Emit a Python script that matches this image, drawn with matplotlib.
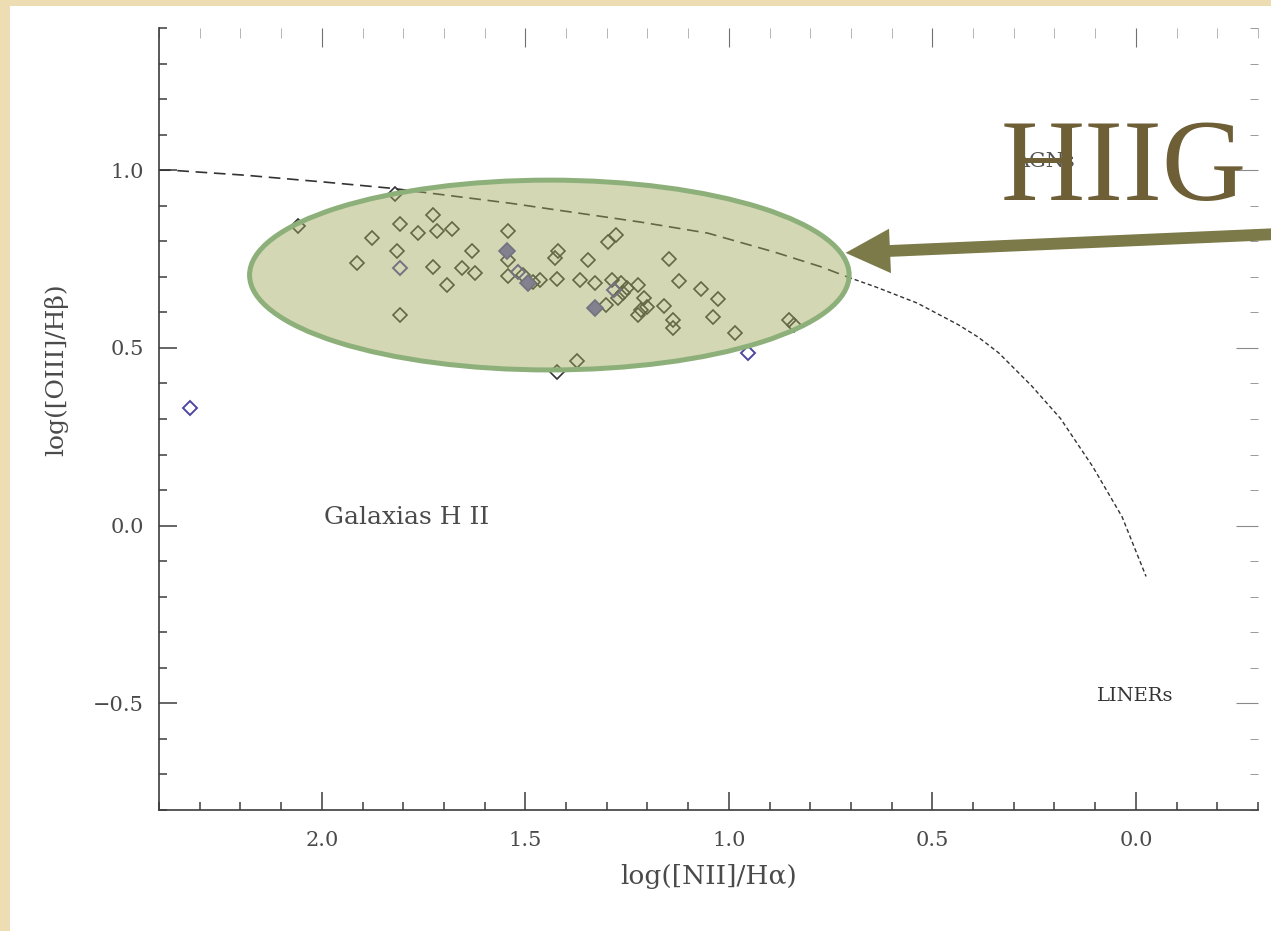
import numpy as np
import matplotlib
matplotlib.use("Agg")
import matplotlib.pyplot as plt
from matplotlib.patches import Ellipse, Rectangle
from matplotlib.ticker import MultipleLocator

# galaxy sample: log([NII]/Ha) axis value, log([OIII]/Hb) value
nii_black = [2.059, 1.820, 1.727, 1.808, 1.764, 1.717, 1.680, 1.877, 1.815, 1.914,
             1.727, 1.692, 1.808, 1.631, 1.655, 1.623, 1.542, 1.542, 1.542, 1.505,
             1.480, 1.463, 1.419, 1.426, 1.421, 1.345, 1.365, 1.328, 1.296, 1.278,
             1.286, 1.266, 1.261, 1.249, 1.273, 1.224, 1.303, 1.209, 1.217, 1.200,
             1.224, 1.372, 1.421, 1.148, 1.160, 1.123, 1.138, 1.138, 1.069, 1.027,
             1.039, 0.985, 0.852, 0.840]
oiii_black = [0.843, 0.933, 0.874, 0.848, 0.823, 0.829, 0.834, 0.809, 0.772, 0.739,
              0.728, 0.677, 0.593, 0.772, 0.725, 0.711, 0.829, 0.747, 0.702, 0.705,
              0.685, 0.691, 0.772, 0.753, 0.694, 0.747, 0.691, 0.683, 0.798, 0.817,
              0.691, 0.683, 0.654, 0.669, 0.640, 0.677, 0.621, 0.640, 0.607, 0.615,
              0.593, 0.463, 0.433, 0.750, 0.618, 0.688, 0.579, 0.556, 0.666, 0.638,
              0.587, 0.542, 0.579, 0.565]

nii_purple_open = [1.808, 1.517, 1.283, 0.953, 2.325]
oiii_purple_open = [0.725, 0.713, 0.663, 0.486, 0.331]

nii_purple_fill = [1.544, 1.493, 1.328]
oiii_purple_fill = [0.772, 0.683, 0.612]

# dividing curve between HII galaxies and AGN
curve_x = [2.40, 2.372, 2.190, 1.988, 1.828, 1.537, 1.217, 1.052, 0.889, 0.773,
           0.707, 0.638, 0.537, 0.436, 0.387, 0.337, 0.256, 0.185, 0.106, 0.034,
           -0.025]
curve_y = [1.000, 1.000, 0.986, 0.966, 0.949, 0.907, 0.854, 0.823, 0.770, 0.728,
           0.699, 0.671, 0.626, 0.565, 0.530, 0.486, 0.393, 0.301, 0.166, 0.025,
           -0.143]
n_long = 11  # long dashes up to the ellipse edge, fine dashes after

x_ticks = [2.0, 1.5, 1.0, 0.5, 0.0]
y_ticks = [1.0, 0.5, 0.0, -0.5]

W, H = 1271, 931
fig = plt.figure(figsize=(W / 100, H / 100), dpi=100)
fig.patch.set_facecolor("#eedcb2")
fig.add_artist(Rectangle((10 / W, 0), 1 - 10 / W, 1 - 6 / H,
                         transform=fig.transFigure, facecolor="white",
                         edgecolor="none", zorder=0))

ax = fig.add_axes([159 / W, 121 / H, (1258 - 159) / W, (810 - 28) / H])
ax.set_facecolor("none")
ax.set_xlim(2.4, -0.3)
ax.set_ylim(-0.8, 1.4)

txt = "#4a4a4a"
for s in ["top", "right"]:
    ax.spines[s].set_visible(False)
for s in ["left", "bottom"]:
    ax.spines[s].set_color("#3c3c3c")
    ax.spines[s].set_linewidth(1.2)

ax.set_xticks(x_ticks)
ax.set_yticks(y_ticks)
ax.xaxis.set_minor_locator(MultipleLocator(0.1))
ax.yaxis.set_minor_locator(MultipleLocator(0.1))
ax.tick_params(which="both", direction="in", color="#3c3c3c", width=1.1,
               labelcolor=txt, labelsize=15)
ax.tick_params(which="major", length=13)
ax.tick_params(which="minor", length=6)
ax.tick_params(axis="x", which="major", pad=15)
ax.tick_params(axis="y", which="major", pad=11)
ax.set_xticklabels(["2.0", "1.5", "1.0", "0.5", "0.0"], family="DejaVu Serif")
ax.set_yticklabels(["1.0", "0.5", "0.0", "\u22120.5"], family="DejaVu Serif")

# faint ticks on the opposite sides
top = ax.secondary_xaxis("top")
top.set_xticks(x_ticks)
top.xaxis.set_minor_locator(MultipleLocator(0.1))
top.tick_params(which="both", direction="in", color="#a8a8a8", labeltop=False)
top.tick_params(which="major", length=14, color="#707070")
top.tick_params(which="minor", length=7)
top.spines["top"].set_visible(False)
right = ax.secondary_yaxis("right")
right.set_yticks(y_ticks)
right.yaxis.set_minor_locator(MultipleLocator(0.1))
right.tick_params(which="both", direction="in", color="#8a8a8a", labelright=False)
right.tick_params(which="major", length=16)
right.tick_params(which="minor", length=6)
right.spines["right"].set_visible(False)

ax.set_xlabel("log([NII]/H\u03b1)", family="DejaVu Serif", fontsize=19,
              color=txt, labelpad=10)
ax.set_ylabel("log([OIII]/H\u03b2)", family="DejaVu Serif", fontsize=18,
              color=txt)
ax.yaxis.set_label_coords(-0.083, 0.563)

ax.plot(curve_x[:n_long], curve_y[:n_long], color="#333333", lw=1.2,
        ls=(0, (7, 4)), zorder=2)
ax.plot(curve_x[n_long - 1:], curve_y[n_long - 1:], color="#333333", lw=1.0,
        ls=(0, (3, 2)), zorder=2)

ax.plot(nii_black, oiii_black, ls="none", marker="D", ms=7, mfc="none",
        mec="#333333", mew=1.2, zorder=3)
ax.plot(nii_purple_open, oiii_purple_open, ls="none", marker="D", ms=7,
        mfc="none", mec="#4e47a0", mew=1.4, zorder=3)
ax.plot(nii_purple_fill, oiii_purple_fill, ls="none", marker="D", ms=8,
        mfc="#6a62b8", mec="#4e47a0", mew=1.2, zorder=3)

ax.text(1.995, 0.022, "Galaxias H II", family="DejaVu Serif", fontsize=18,
        color=txt, va="center")
ax.text(0.096, -0.48, "LINERs", family="DejaVu Serif", fontsize=14,
        color="#333333", va="center")
ax.text(0.298, 1.025, "AGNs", family="DejaVu Serif", fontsize=15,
        color="#555555", va="center")

# highlighted HII galaxy region
ax.add_patch(Ellipse((1.441, 0.705), 1.473, 0.534, facecolor="#a0a75a",
                     alpha=0.45, edgecolor="none", zorder=4))
ax.add_patch(Ellipse((1.441, 0.705), 1.473, 0.534, facecolor="none",
                     edgecolor="#8db07a", lw=3.6, zorder=5))

ax.text(0.03, 0.916, "HIIG", family="Liberation Serif", fontsize=84,
        color="#6e5f37", ha="center", va="baseline", zorder=6)
ax.annotate("", xy=(0.72, 0.767), xytext=(-0.34, 0.820),
            arrowprops=dict(arrowstyle="simple,head_length=3.2,head_width=3.2,tail_width=0.85",
                            mutation_scale=10, color="#7b7a48", lw=0),
            annotation_clip=False, zorder=6)

fig.savefig("out.png", dpi=100, facecolor=fig.get_facecolor())
